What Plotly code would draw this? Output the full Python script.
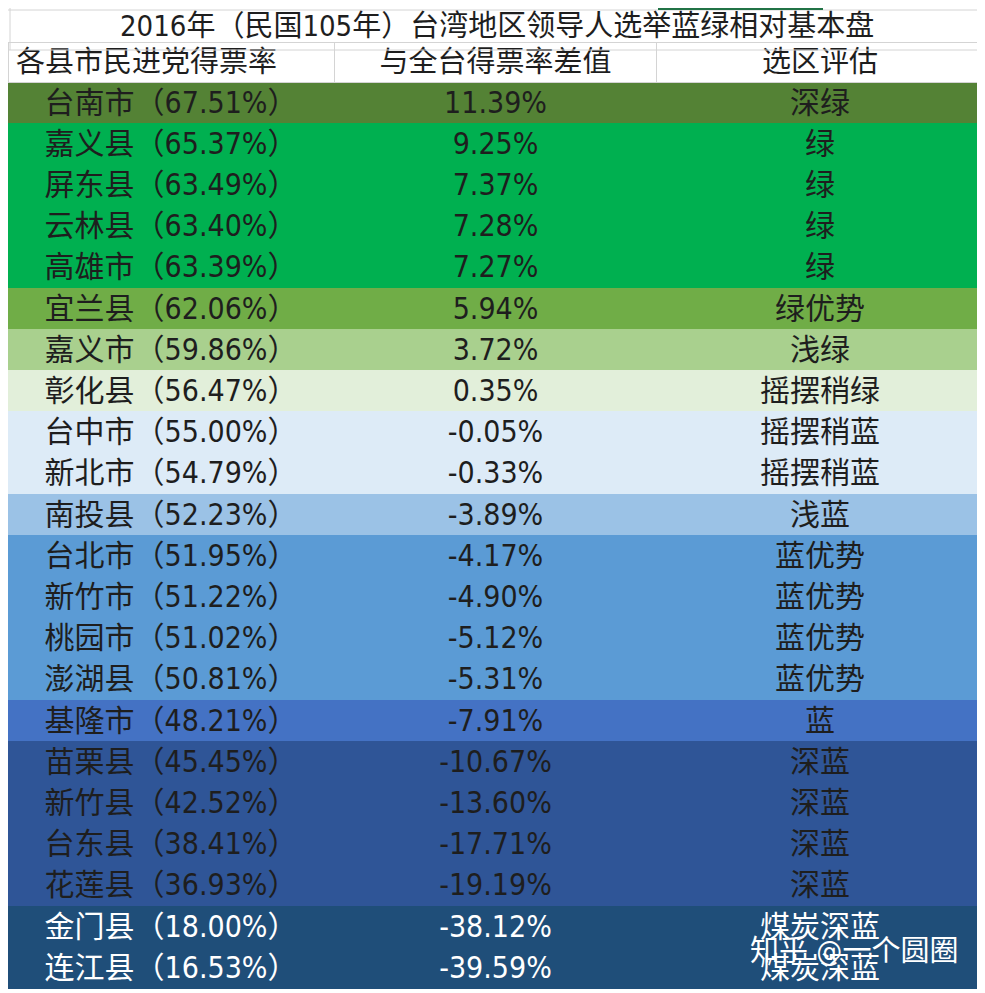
import plotly.graph_objects as go

# ---- data ----
title_text = "2016年（民国105年）台湾地区领导人选举蓝绿相对基本盘"
header_labels = ["各县市民进党得票率", "与全台得票率差值", "选区评估"]
counties = ["台南市", "嘉义县", "屏东县", "云林县", "高雄市", "宜兰县", "嘉义市", "彰化县",
            "台中市", "新北市", "南投县", "台北市", "新竹市", "桃园市", "澎湖县", "基隆市",
            "苗栗县", "新竹县", "台东县", "花莲县", "金门县", "连江县"]
dpp_rate = [67.51, 65.37, 63.49, 63.40, 63.39, 62.06, 59.86, 56.47, 55.00, 54.79, 52.23,
            51.95, 51.22, 51.02, 50.81, 48.21, 45.45, 42.52, 38.41, 36.93, 18.00, 16.53]
diff_vs_all = [11.39, 9.25, 7.37, 7.28, 7.27, 5.94, 3.72, 0.35, -0.05, -0.33, -3.89,
               -4.17, -4.90, -5.12, -5.31, -7.91, -10.67, -13.60, -17.71, -19.19, -38.12, -39.59]
assessment = ["深绿", "绿", "绿", "绿", "绿", "绿优势", "浅绿", "摇摆稍绿", "摇摆稍蓝", "摇摆稍蓝",
              "浅蓝", "蓝优势", "蓝优势", "蓝优势", "蓝优势", "蓝", "深蓝", "深蓝", "深蓝", "深蓝",
              "煤炭深蓝", "煤炭深蓝"]
watermark = "知乎 @一个圆圈"

# ---- styles ----
fill_map = {
    "深绿": "#548235", "绿": "#00B050", "绿优势": "#70AD47", "浅绿": "#A9D08E",
    "摇摆稍绿": "#E2EFDA", "摇摆稍蓝": "#DDEBF7", "浅蓝": "#9BC2E6", "蓝优势": "#5B9BD5",
    "蓝": "#4472C4", "深蓝": "#2F5597", "煤炭深蓝": "#1F4E79",
}
font_map = {"煤炭深蓝": "#FFFFFF"}

W, H = 985, 993
FONT = "Liberation Sans Narrow, DejaVu Sans Condensed, Noto Sans CJK SC"
CJK = "Noto Sans CJK SC"

col1 = [f"{c}（{r:.2f}%）" for c, r in zip(counties, dpp_rate)]
col2 = [f"{d:.2f}%" for d in diff_vs_all]
col3 = assessment
fills = [fill_map[a] for a in assessment]
fcols = [font_map.get(a, "#1E1E1E") for a in assessment]

x1 = 975
top = 34  # table's own top offset brings the header to ~42px
fig = go.Figure(go.Table(
    domain=dict(x=[0, x1 / W], y=[0, 1 - top / H]),
    columnwidth=[325, 322, 325],
    header=dict(
        values=header_labels,
        align=["left", "center", "center"],
        fill_color="white",
        line=dict(color="#D4D4D4", width=1),
        font=dict(family=CJK, size=29, color="#1E1E1E"),
        height=40,
    ),
    cells=dict(
        values=[col1, col2, col3],
        align=["center", "center", "center"],
        fill_color=[fills, fills, fills],
        line=dict(color=[fills, fills, fills], width=1),
        font=dict(family=FONT, size=30, color=[fcols, fcols, fcols]),
        height=41.2,
    ),
))

fig.add_annotation(
    text=title_text, xref="paper", yref="paper",
    x=(3 + x1) / 2 / W, y=1 - 18 / H, xanchor="center", yanchor="middle",
    showarrow=False, font=dict(family=FONT, size=29, color="#1E1E1E"),
)
fig.add_annotation(
    text=watermark, xref="paper", yref="paper",
    x=740 / W, y=1 - 943 / H, xanchor="left", yanchor="middle",
    showarrow=False, font=dict(family=FONT, size=29, color="#FFFFFF"),
)

# spreadsheet grid lines around the title row
grid = "#D4D4D4"
fig.add_shape(type="line", xref="paper", yref="paper", x0=0, x1=1, y0=1 - 2 / H, y1=1 - 2 / H,
              line=dict(color=grid, width=1))
fig.add_shape(type="line", xref="paper", yref="paper", x0=0, x1=1, y0=1 - 42 / H, y1=1 - 42 / H,
              line=dict(color=grid, width=1))
fig.add_shape(type="line", xref="paper", yref="paper", x0=2 / W, x1=2 / W, y0=1 - 42 / H, y1=1,
              line=dict(color=grid, width=1))
fig.add_shape(type="line", xref="paper", yref="paper", x0=x1 / W, x1=x1 / W, y0=0, y1=1,
              line=dict(color=grid, width=1))
fig.add_shape(type="line", xref="paper", yref="paper", x0=650 / W, x1=815 / W, y0=1, y1=1,
              line=dict(color="#217346", width=4))

fig.update_layout(
    width=W, height=H,
    margin=dict(l=0, r=0, t=0, b=0),
    paper_bgcolor="white", plot_bgcolor="white",
)

fig.write_html("out.html")
